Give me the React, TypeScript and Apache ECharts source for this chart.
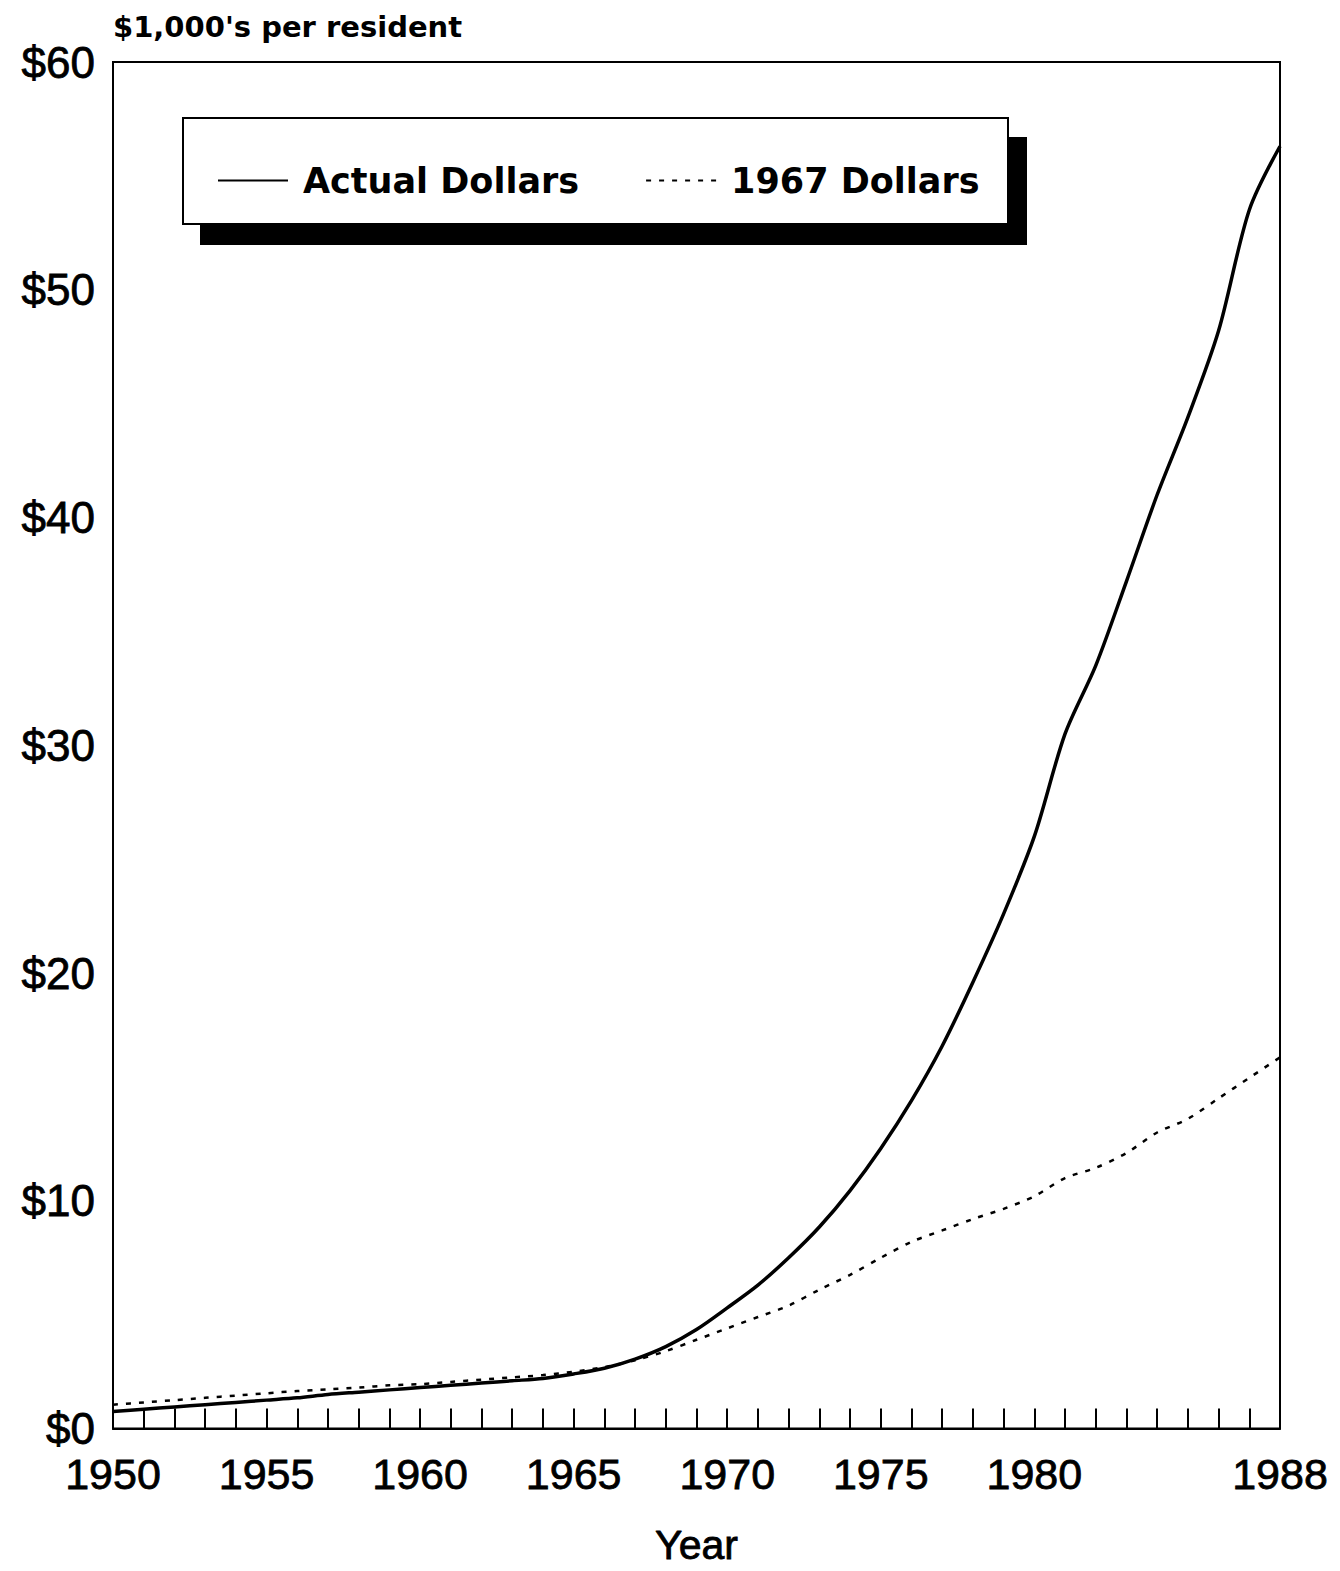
import React, { useEffect, useRef } from "react";
import * as echarts from "echarts";

const years: number[] = [
  1950, 1951, 1952, 1953, 1954, 1955, 1956, 1957, 1958, 1959,
  1960, 1961, 1962, 1963, 1964, 1965, 1966, 1967, 1968, 1969,
  1970, 1971, 1972, 1973, 1974, 1975, 1976, 1977, 1978, 1979,
  1980, 1981, 1982, 1983, 1984, 1985, 1986, 1987, 1988,
];

const actualDollars: number[] = [
  0.75, 0.85, 0.95, 1.05, 1.15, 1.25, 1.35, 1.5, 1.6, 1.7,
  1.8, 1.9, 2.0, 2.1, 2.2, 2.4, 2.65, 3.05, 3.6, 4.35,
  5.3, 6.3, 7.5, 8.85, 10.45, 12.3, 14.4, 16.8, 19.6, 22.6,
  26.0, 30.5, 33.5, 37.2, 41.0, 44.4, 48.2, 53.5, 56.3,
];

const dollars1967: number[] = [
  1.05, 1.15, 1.25, 1.35, 1.45, 1.55, 1.65, 1.72, 1.8, 1.9,
  1.95, 2.05, 2.15, 2.25, 2.35, 2.5, 2.7, 3.0, 3.4, 3.9,
  4.4, 4.9, 5.4, 6.1, 6.75, 7.5, 8.2, 8.7, 9.2, 9.65,
  10.2, 11.0, 11.45, 12.1, 13.0, 13.6, 14.5, 15.4, 16.3,
];

const xTickLabels: number[] = [1950, 1955, 1960, 1965, 1970, 1975, 1980, 1988];
const yTickValues: number[] = [0, 10, 20, 30, 40, 50, 60];

const seriesNames: string[] = ["Actual Dollars", "1967 Dollars"];
const unitLabel = "$1,000's per resident";
const xAxisTitle = "Year";

const FONT = "'Liberation Sans', Arial, Helvetica, sans-serif";
const WIDE = "'DejaVu Sans', 'Liberation Sans', sans-serif";

export default function App() {
  const ref = useRef<HTMLDivElement>(null);

  useEffect(() => {
    if (!ref.current) return;
    const chart = echarts.init(ref.current, null, { renderer: "svg" });
    const option: any = {
      animation: false,
      backgroundColor: "#ffffff",
      grid: {
        left: 113,
        right: 60,
        top: 62,
        bottom: 140,
        show: true,
        borderColor: "#000",
        borderWidth: 2,
        backgroundColor: "transparent",
        z: 0,
      },
      xAxis: {
        type: "value",
        min: 1950,
        max: 1988,
        interval: 1,
        name: xAxisTitle,
        nameLocation: "middle",
        nameGap: 96,
        nameTextStyle: {
          fontFamily: FONT,
          fontSize: 41,
          color: "#000",
          textBorderColor: "#000",
          textBorderWidth: 0.8,
        },
        axisLine: { show: true, lineStyle: { color: "#000", width: 2 } },
        axisTick: { show: true, inside: true, length: 20, lineStyle: { color: "#000", width: 2 } },
        splitLine: { show: false },
        axisLabel: {
          show: true,
          interval: 0,
          showMinLabel: true,
          showMaxLabel: true,
          margin: 24,
          fontFamily: FONT,
          fontSize: 43,
          color: "#000",
          textBorderColor: "#000",
          textBorderWidth: 0.8,
          formatter: (v: number) => (xTickLabels.indexOf(Math.round(v)) >= 0 ? String(Math.round(v)) : ""),
        },
      },
      yAxis: {
        type: "value",
        min: 0,
        max: 60,
        interval: 10,
        axisLine: { show: true, lineStyle: { color: "#000", width: 2 } },
        axisTick: { show: false },
        splitLine: { show: false },
        axisLabel: {
          margin: 18,
          fontFamily: FONT,
          fontSize: 44,
          lineHeight: 40,
          color: "#000",
          textBorderColor: "#000",
          textBorderWidth: 0.8,
          formatter: (v: number) => (yTickValues.indexOf(v) >= 0 ? "$" + v : ""),
        },
      },
      legend: {
        show: true,
        left: 212,
        top: 158,
        z: 20,
        itemWidth: 70,
        itemHeight: 12,
        itemGap: 66,
        itemStyle: { opacity: 0 },
        textStyle: {
          fontFamily: WIDE,
          fontSize: 35,
          fontWeight: "bold",
          color: "#000",
          padding: [0, 0, 0, 10],
        },
        data: seriesNames,
      },
      graphic: [
        {
          type: "text",
          left: 113,
          top: 12,
          z: 10,
          style: {
            text: unitLabel,
            fontFamily: WIDE,
            fontSize: 29,
            fontWeight: "bold",
            fill: "#000",
          },
        },
        {
          type: "rect",
          z: 5,
          shape: { x: 200, y: 137, width: 827, height: 108 },
          style: { fill: "#000" },
        },
        {
          type: "rect",
          z: 6,
          shape: { x: 183, y: 118, width: 825, height: 106 },
          style: { fill: "#fff", stroke: "#000", lineWidth: 2 },
        },
      ],
      series: [
        {
          name: seriesNames[0],
          type: "line",
          data: years.map((y, i) => [y, actualDollars[i]]),
          smooth: 0.3,
          symbol: "none",
          lineStyle: { color: "#000", width: 3.5, type: "solid" },
          itemStyle: { color: "#000" },
          z: 3,
        },
        {
          name: seriesNames[1],
          type: "line",
          data: years.map((y, i) => [y, dollars1967[i]]),
          smooth: 0.3,
          symbol: "none",
          lineStyle: { color: "#000", width: 2.5, type: [5, 8] },
          itemStyle: { color: "#000" },
          z: 2,
        },
      ],
    };
    chart.setOption(option);
    return () => {
      chart.dispose();
    };
  }, []);

  return (
    <div
      ref={ref}
      style={{ position: "absolute", left: 0, top: 0, width: 1340, height: 1571, background: "#fff" }}
    />
  );
}
